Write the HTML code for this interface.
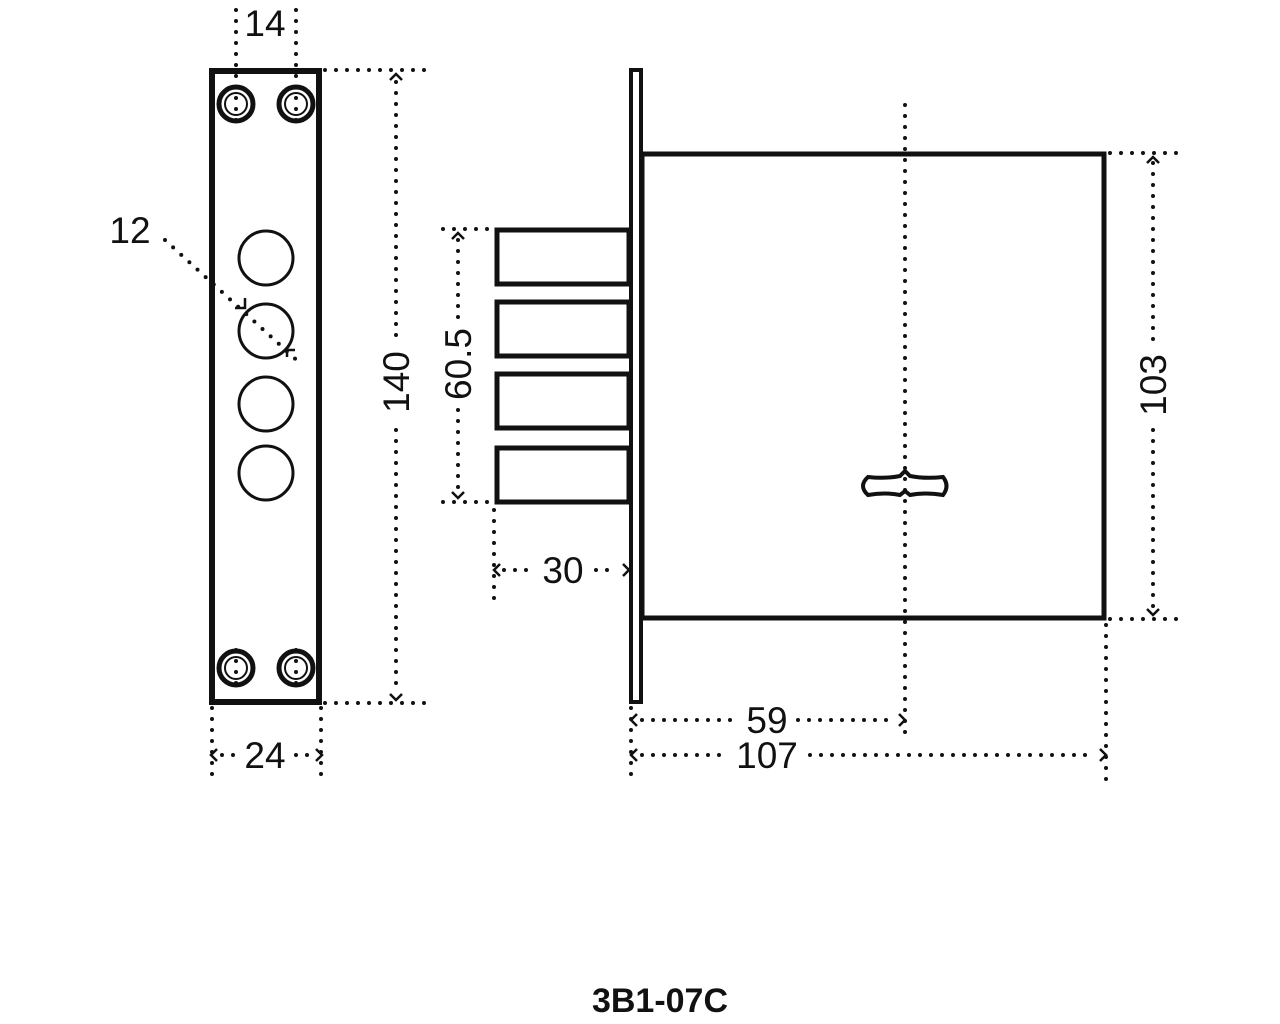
<!DOCTYPE html>
<html><head><style>body{margin:0;background:#fff}svg{display:block}text{font-family:"Liberation Sans",sans-serif;fill:#111}</style></head><body>
<svg width="1280" height="1024" viewBox="0 0 1280 1024" xmlns="http://www.w3.org/2000/svg">
<g fill="none" stroke="#111" stroke-width="4" stroke-dasharray="0 11" stroke-linecap="round">
<line x1="236" y1="10" x2="236" y2="128"/><line x1="296" y1="10" x2="296" y2="128"/>
<line x1="236" y1="650" x2="236" y2="690"/><line x1="296" y1="650" x2="296" y2="690"/>
<line x1="325" y1="70" x2="425" y2="70"/><line x1="325" y1="703" x2="425" y2="703"/>
<line x1="396" y1="82" x2="396" y2="340"/><line x1="396" y1="430" x2="396" y2="692"/>
<line x1="212" y1="708" x2="212" y2="782"/><line x1="321" y1="708" x2="321" y2="782"/>
<line x1="222" y1="755" x2="236" y2="755"/><line x1="296" y1="755" x2="310" y2="755"/>
<line x1="165" y1="240" x2="302" y2="365"/>
<line x1="443" y1="229" x2="495" y2="229"/><line x1="443" y1="502" x2="495" y2="502"/>
<line x1="458" y1="240" x2="458" y2="318"/><line x1="458" y1="410" x2="458" y2="492"/>
<line x1="494" y1="510" x2="494" y2="600"/>
<line x1="504" y1="570" x2="530" y2="570"/><line x1="596" y1="570" x2="618" y2="570"/>
<line x1="905" y1="105" x2="905" y2="740"/>
<line x1="1110" y1="153" x2="1185" y2="153"/><line x1="1110" y1="619" x2="1185" y2="619"/>
<line x1="1153" y1="163" x2="1153" y2="340"/><line x1="1153" y1="430" x2="1153" y2="609"/>
<line x1="631" y1="708" x2="631" y2="785"/><line x1="1106" y1="625" x2="1106" y2="785"/>
<line x1="642" y1="720" x2="735" y2="720"/><line x1="798" y1="720" x2="895" y2="720"/>
<line x1="642" y1="755" x2="725" y2="755"/><line x1="810" y1="755" x2="1095" y2="755"/>
</g>
<g fill="none" stroke="#111" stroke-width="2.5">
<polyline points="390,80 396,74 402,80"/><polyline points="390,694 396,700 402,694"/>
<polyline points="217,749 211,755 217,761"/><polyline points="316,749 322,755 316,761"/>
<polyline points="452,239 458,233 464,239"/><polyline points="452,492 458,498 464,492"/>
<polyline points="1147,163 1153,157 1159,163"/><polyline points="1147,609 1153,615 1159,609"/>
<polyline points="637,714 631,720 637,726"/><polyline points="899,714 905,720 899,726"/>
<polyline points="637,749 631,755 637,761"/><polyline points="1100,749 1106,755 1100,761"/>
<polyline points="500,564 494,570 500,576"/><polyline points="623,564 629,570 623,576"/>
<polyline points="235,308 245,308 245,298"/><polyline points="287,357 287,350 295,350"/>
</g>
<rect x="212" y="71" width="107" height="631" fill="none" stroke="#111" stroke-width="6"/>
<g fill="none" stroke="#111">
<circle cx="236" cy="104" r="17" stroke-width="5"/><circle cx="236" cy="104" r="11" stroke-width="2"/>
<circle cx="296" cy="104" r="17" stroke-width="5"/><circle cx="296" cy="104" r="11" stroke-width="2"/>
<circle cx="236" cy="668" r="17" stroke-width="5"/><circle cx="236" cy="668" r="11" stroke-width="2"/>
<circle cx="296" cy="668" r="17" stroke-width="5"/><circle cx="296" cy="668" r="11" stroke-width="2"/>
<circle cx="266" cy="258" r="27" stroke-width="3"/><circle cx="266" cy="331" r="27" stroke-width="3"/>
<circle cx="266" cy="404" r="27" stroke-width="3"/><circle cx="266" cy="473" r="27" stroke-width="3"/>
<rect x="631" y="70" width="10" height="632" stroke-width="4"/>
<rect x="642" y="154" width="462" height="464" stroke-width="5"/>
<rect x="497" y="230" width="132" height="54" stroke-width="5"/>
<rect x="497" y="302" width="132" height="54" stroke-width="5"/>
<rect x="497" y="374" width="132" height="54" stroke-width="5"/>
<rect x="497" y="448" width="132" height="54" stroke-width="5"/>
<path d="M868 477 Q885 479 900 476 L905 471 L910 476 Q925 479 943 477 Q950 486 943 495 Q925 492 910 495 L905 491 L900 495 Q885 492 868 495 Q858 486 868 477 Z" stroke-width="4"/>
</g>
<g font-size="37">
<text x="265" y="36" text-anchor="middle">14</text>
<text x="130" y="243" text-anchor="middle">12</text>
<text x="265" y="768" text-anchor="middle">24</text>
<text x="563" y="583" text-anchor="middle">30</text>
<text x="767" y="733" text-anchor="middle">59</text>
<text x="767" y="768" text-anchor="middle">107</text>
<text transform="translate(409,382) rotate(-90)" text-anchor="middle">140</text>
<text transform="translate(471,364) rotate(-90)" text-anchor="middle">60.5</text>
<text transform="translate(1166,385) rotate(-90)" text-anchor="middle">103</text>
</g>
<text x="660" y="1012" text-anchor="middle" font-size="34" style="font-weight:700">3B1-07C</text>
</svg>
</body></html>
